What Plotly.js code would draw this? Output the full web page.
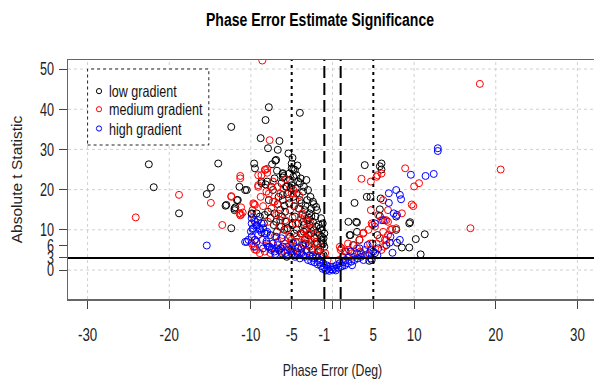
<!DOCTYPE html>
<html>
<head>
<meta charset="utf-8">
<script src="https://cdn.plot.ly/plotly-3.0.1.min.js"></script>
<style>
html,body{margin:0;padding:0;overflow:hidden;background:#fff;}
#chart{width:600px;height:382px;}
</style>
</head>
<body>
<div id="chart"></div>
<script>
// ---- data ----
const seriesNames = ["low gradient", "medium gradient", "high gradient"];
const seriesColors = ["#000000", "#ff0000", "#0000ff"];

const lowX = [-22.5,-21.9,-18.8,-15.4,-14.9,-14.0,-12.4,-13.1,-12.0,-11.9,-11.7,-12.4,-11.4,-10.5,-9.9,-9.6,-9.5,-8.8,-8.2,-7.8,-7.9,-6.7,-6.5,-6.9,-6.1,-6.1,-4.8,-5.6,-6.1,-7.8,-6.7,-8.7,-8.2,-4.0,-13.0,-10.7,-11.6,-12.0,-7.0,-5.0,
  -5.0,-5.1,-6.1,-6.0,-4.8,-4.4,-4.0,-3.8,-3.4,-3.3,-2.8,-2.6,-2.4,-2.0,-1.8,-1.55,-1.35,-1.15,-4.6,-4.2,-3.6,-4.4,-3.2,-3.0,-2.6,-2.2,-3.4,-5.8,-6.2,-6.9,-7.1,-7.9,-8.3,-9.3,-9.9,-6.1,-6.6,-7.3,-7.5,-8.7,-6.25,-5.7,-5.2,-7.1,-8.0,-4.6,-4.4,-4.8,-4.0,-5.0,-3.6,-3.1,-2.6,-2.1,-6.25,-5.6,-1.5,-1.0,
  -3.8,-2.9,-2.5,-1.9,-1.7,-4.5,-5.2,-5.5,-4.9,-3.9,-2.8,-2.3,-1.5,-1.2,-1.0,-1.1,-4.3,-5.0,-6.6,-6.8,-7.6,-6.3,-3.7,-4.1,-3.0,-5.3,-5.7,-4.5,-3.9,-3.5,-2.7,-2.3,-1.9,-1.4,-4.9,-5.4,
  -3.3,-2.0,-1.3,-4.7,-3.5,-2.4,-5.9,-6.4,-7.2,-8.4,
  -5.5,-4.2,-3.0,-2.4,-1.7,-1.3,-3.5,-4.7,-5.9,-6.4,-7.6,-8.9,-5.3,-4.3,-3.2,-2.0,-6.8,-7.4,-2.9,-1.1,
  6.0,6.0,5.8,3.95,4.2,4.65,2.7,5.9,5.8,7.8,9.4,9.5,10.2,11.3,10.8,9.4,8.5,7.8,7.9,1.95,3.0,3.0,2.2,5.8,4.5,5.2,4.9,4.7,1.6,2.6,3.5,5.5,6.6,3.3,2.9,2.1,4.8];
const lowY = [26.3,20.6,14.1,18.9,20.5,26.5,35.6,16.0,15.3,15.6,17.4,10.4,20.7,19.9,13.9,26.5,25.3,32.8,37.3,40.5,30.3,29.9,32.1,27.4,23.9,23.0,25.1,20.7,18.7,17.4,16.4,21.6,21.3,39.1,16.2,19.9,17.4,14.9,27.2,25.3,
  21.1,20.4,24.1,23.4,18.2,19.1,17.4,16.6,14.9,16.0,14.1,13.4,12.0,10.8,9.5,8.7,7.5,6.6,13.3,11.6,12.0,10.0,10.0,8.7,9.1,7.9,7.5,14.5,13.3,12.0,14.1,14.5,13.7,14.1,14.1,17.4,18.2,19.9,20.7,22.0,21.6,20.7,22.4,22.8,22.0,24.9,23.6,23.2,21.6,26.5,19.5,17.4,15.3,13.3,4.2,3.3,5.0,5.8,
  5.4,6.2,5.0,6.6,4.6,7.0,8.3,10.4,11.2,9.1,11.2,9.9,10.4,11.6,9.1,3.7,4.2,5.4,5.0,9.5,8.7,10.8,13.7,15.3,12.4,16.6,12.0,20.3,22.8,20.7,18.2,16.4,14.9,12.9,27.9,29.0,
  6.6,7.0,8.3,9.1,11.2,3.7,10.0,12.4,11.2,11.6,
  18.9,22.0,19.9,17.0,11.2,9.9,9.5,15.9,16.0,15.0,12.9,13.3,24.0,26.0,22.4,15.7,24.7,26.3,13.0,7.9,
  26.5,25.0,25.8,26.1,18.2,18.2,16.7,17.8,15.1,13.3,11.6,11.9,7.7,8.9,3.9,5.6,5.6,10.0,6.8,12.0,11.8,9.5,8.7,13.4,2.3,4.2,6.6,5.0,4.6,6.2,4.2,8.7,6.2,7.5,12.0,8.7,2.5];

const medX = [-24.1,-18.8,-14.9,-13.5,-12.4,-11.3,-11.3,-11.2,-11.2,-11.0,-9.6,-9.1,-8.8,-8.7,-8.2,-8.0,-7.7,-8.6,-7.5,-6.7,-7.3,-9.5,-9.5,-8.9,-9.6,-12.4,-11.4,-11.3,
  -9.7,-9.5,-9.1,-9.1,-8.3,-8.0,-8.1,-7.8,-7.5,-7.1,-6.7,-6.9,-6.5,-5.8,-5.6,-5.2,-5.0,-4.8,-4.6,-4.2,-6.1,-5.4,-5.0,-4.4,-3.8,-3.4,-4.6,-5.8,-6.7,-7.1,-9.3,-9.7,-2.8,-2.6,-2.2,-1.8,-1.5,-4.0,-0.9,0.9,1.0,-3.2,-2.0,-1.3,-0.6,-3.6,-4.9,-5.5,-6.3,-7.6,-3.0,-3.9,-4.5,-2.5,-2.0,-5.3,-6.0,-3.7,
  -8.3,-7.9,-6.9,-5.2,-4.2,-3.3,-2.9,-9.9,-8.6,
  -6.4,-5.7,-4.1,-3.4,-2.7,-6.6,-7.9,-8.5,-7.3,-9.8,-4.9,-3.1,
  18.05,20.6,16.9,8.9,3.55,4.7,5.4,5.5,6.0,10.0,10.6,9.7,9.9,4.7,6.2,6.8,8.5,5.6,6.0,6.4,6.8,4.8,5.2,7.8,6.2,6.8,4.4,3.75,5.8,5.4,6.4,4.6,3.3,2.5,1.9,1.1,1.5,2.0,2.4,3.0,3.4,4.0,4.5,1.3,0.8,3.8,4.9,6.6,7.1,7.3,6.6,6.0,6.3,2.6];
const medY = [13.1,18.7,16.7,11.2,18.4,23.4,22.8,15.6,13.8,14.3,16.4,20.7,18.2,23.6,25.0,25.2,32.3,52.1,20.7,20.7,17.0,7.5,5.1,4.2,12.4,18.2,14.1,13.6,
  16.6,16.2,21.1,23.6,24.9,24.2,19.5,19.0,15.3,17.0,16.4,13.7,10.8,12.4,10.0,14.9,19.1,19.9,17.4,15.3,8.7,7.9,7.5,8.3,9.1,10.0,5.8,6.6,7.0,8.3,5.0,5.8,5.8,7.0,6.6,5.0,5.8,4.2,4.2,5.8,5.0,4.6,3.7,3.3,2.5,6.6,4.6,5.0,4.6,4.2,12.0,12.9,11.6,10.4,8.7,17.8,20.3,14.1,
  4.6,6.2,5.4,6.2,7.0,7.9,9.1,6.6,7.5,
  19.0,22.6,18.6,13.3,11.7,14.0,12.0,15.9,22.0,14.9,13.0,8.0,
  46.3,25.0,10.4,25.3,22.7,22.0,23.2,23.6,24.0,20.8,21.6,16.3,15.9,14.9,17.4,14.9,14.1,13.7,12.4,12.4,12.0,11.6,10.8,10.4,9.5,8.7,10.0,9.1,7.9,6.6,7.5,6.6,7.5,6.2,6.6,5.4,4.6,5.0,4.2,5.4,4.6,5.0,3.7,3.3,2.5,9.3,11.2,12.4,10.0,10.2,7.5,5.0,5.8,3.3];

const highX = [-15.4,-10.5,-9.3,-9.9,-9.3,-9.8,-8.9,-8.7,-8.1,-8.0,-8.1,-7.7,-7.4,-6.9,-6.5,-6.1,-9.5,-9.9,-9.5,-9.1,-8.7,-9.3,-9.7,-8.9,-8.5,-8.3,-9.1,-9.9,-10.3,-10.7,-9.5,-8.1,-7.9,-8.5,-7.5,-7.1,-6.7,-6.25,-5.6,-5.2,-4.8,-4.2,-3.6,-3.2,-2.8,-2.4,-2.0,-1.55,-1.15,-0.75,-0.3,0.1,0.5,0.9,-3.8,-4.6,-5.0,-3.0,-2.2,-1.8,-1.4,-1.0,-0.6,-0.2,0.3,0.7,1.2,-1.2,-0.8,0.0,-0.4,0.4,-1.6,-2.6,-3.4,-4.0,-5.8,-7.0,-10.0,
  -5.4,-4.4,-3.6,-2.5,-6.3,-7.3,
  12.9,12.9,9.6,11.4,12.4,6.9,7.8,8.25,8.4,6.9,7.5,7.9,7.0,7.35,8.25,7.1,6.2,5.2,1.5,1.9,2.3,2.7,3.1,3.5,4.0,4.5,5.0,5.5,3.0,2.0,1.6,1.0,2.4,3.8,4.7,3.3,2.2,4.3,5.6,1.3];
const highY = [6.1,7.0,7.0,11.6,11.0,10.2,10.4,9.4,9.1,9.5,7.1,5.8,5.4,8.3,5.0,5.8,5.8,12.9,12.0,12.4,11.6,11.2,10.4,10.0,10.4,9.1,8.7,8.3,7.5,7.0,7.5,6.6,5.8,5.4,5.0,4.6,6.2,7.9,5.8,5.0,6.6,5.4,6.2,5.0,3.7,2.9,3.3,2.5,1.7,1.2,0.8,0.8,1.2,1.7,4.2,3.3,4.0,2.5,1.9,1.4,1.0,0.6,0.3,0.2,0.3,0.6,1.0,0.3,-0.1,0.1,-0.2,-0.1,1.9,2.2,3.3,2.9,4.2,4.0,9.6,
  3.7,4.6,3.7,3.3,5.4,6.6,
  30.3,29.6,23.7,23.4,23.9,19.1,19.9,18.7,17.6,16.7,14.1,13.7,6.8,4.3,7.5,8.3,12.4,11.6,1.2,1.7,2.1,2.5,2.9,3.3,3.7,4.2,4.6,3.7,4.2,3.3,2.5,0.8,1.2,2.5,2.9,5.4,4.6,6.2,5.4,1.9];

// axes / reference values
const xTickVals = [-30,-20,-10,-5,-1,0,1,5,10,20,30];
const xTickText = ["-30","-20","-10","-5","-1","","","5","10","20","30"];
const yTickVals = [0,3,6,10,20,30,40,50];
const yTickText = ["0","3","6","10","20","30","40","50"];
const xGrid = [-30,-20,-10,0,10,20,30];
const yGrid = [0,10,20,30,40,50];
const dottedCut = [-5,5];
const dashedCut = [-1,1];
const tCut = 3;
const xRange = [-32.4,32.4];
const yRange = [-7.2,52.24];

const FONT = '"Liberation Sans",Arial,sans-serif';

const seriesX = [lowX, medX, highX];
const seriesY = [lowY, medY, highY];
const traces = seriesNames.map((n,i)=>({
  type:'scatter', mode:'markers', name:n, x:seriesX[i], y:seriesY[i],
  marker:{symbol:'circle-open', size:7, color:seriesColors[i], line:{width:1, color:seriesColors[i]}},
  showlegend:false, hoverinfo:'skip'
}));

const shapes = [];
xGrid.forEach(v=>shapes.push({type:'line', layer:'below', xref:'x', yref:'paper', x0:v, x1:v, y0:0, y1:1, line:{color:'#d0d0d0', width:1, dash:'dot'}}));
yGrid.forEach(v=>shapes.push({type:'line', layer:'below', xref:'paper', yref:'y', x0:0, x1:1, y0:v, y1:v, line:{color:'#d0d0d0', width:1, dash:'dot'}}));
dottedCut.forEach(v=>shapes.push({type:'line', xref:'x', yref:'paper', x0:v, x1:v, y0:0, y1:1, line:{color:'#000', width:2, dash:'3px,4px'}}));
dashedCut.forEach(v=>shapes.push({type:'line', xref:'x', yref:'paper', x0:v, x1:v, y0:0, y1:1, line:{color:'#000', width:2, dash:'12px,5px'}}));
shapes.push({type:'line', xref:'paper', yref:'y', x0:0, x1:1, y0:tCut, y1:tCut, line:{color:'#000', width:2}});

// legend box (top-left at x=-30, y=50)
const legX0 = -30, legX1 = -15.15, legY0 = 31.1, legY1 = 50;
shapes.push({type:'rect', xref:'x', yref:'y', x0:legX0, x1:legX1, y0:legY0, y1:legY1, fillcolor:'#fff', line:{color:'#222', width:1, dash:'dot'}});
const legRowY = [44.5, 40.0, 35.2];
const annotations = [];
seriesNames.forEach((n,i)=>{
  shapes.push({type:'circle', xref:'x', yref:'y', xsizemode:'pixel', ysizemode:'pixel', xanchor:-28.6, yanchor:legRowY[i], x0:-2.6, x1:2.6, y0:-2.6, y1:2.6, line:{color:seriesColors[i], width:1}});
  annotations.push({xref:'x', yref:'y', x:-27.5, y:legRowY[i], text:n, showarrow:false, xanchor:'left', align:'left', yanchor:'middle', borderpad:0, font:{family:FONT, size:16.5, color:'#111'}});
});

const layout = {
  width:600, height:382,
  margin:{l:68, r:3, t:60, b:83, pad:0},
  paper_bgcolor:'#fff', plot_bgcolor:'#fff',
  showlegend:false,
  title:{text:'Phase Error Estimate Significance', x:320/600, xanchor:'center', xref:'container', y:1-20/382, yref:'container', yanchor:'middle', font:{family:FONT, size:17.5, color:'#000', weight:'bold'}},
  xaxis:{range:xRange, tickmode:'array', tickvals:xTickVals, ticktext:xTickText, ticks:'outside', ticklen:8, tickwidth:1, tickcolor:'#444',
    showline:true, linecolor:'#666', linewidth:1.5, mirror:true, showgrid:false, zeroline:false,
    tickfont:{family:FONT, size:18, color:'#222'}, ticklabelstandoff:11,
    title:{text:'Phase Error (Deg)', font:{family:FONT, size:17, color:'#222'}, standoff:20}},
  yaxis:{range:yRange, tickmode:'array', tickvals:yTickVals, ticktext:yTickText, ticks:'outside', ticklen:8, tickwidth:1, tickcolor:'#444',
    showline:true, linecolor:'#666', linewidth:1.5, mirror:true, showgrid:false, zeroline:false, tickangle:0,
    tickfont:{family:FONT, size:18, color:'#222'}, ticklabelstandoff:1,
    title:{text:'Absolute t Statistic', font:{family:FONT, size:15.5, color:'#222'}, standoff:7}},
  shapes:shapes, annotations:annotations
};

// horizontal condensing of the text, to match the narrow lettering of the reference
function squeeze(gd, sel, f){
  gd.querySelectorAll(sel).forEach(t=>{
    const L = t.getComputedTextLength();
    if (L > 0) { t.setAttribute('textLength', (L*f).toFixed(2)); t.setAttribute('lengthAdjust','spacingAndGlyphs'); }
  });
}
Plotly.newPlot('chart', traces, layout, {staticPlot:true, displayModeBar:false}).then(gd=>{
  squeeze(gd, '.gtitle', 0.80);
  squeeze(gd, '.xtick text', 0.74);
  squeeze(gd, '.ytick text', 0.70);
  squeeze(gd, '.g-xtitle text', 0.72);
  squeeze(gd, '.annotation-text', 0.76);
});
</script>
</body>
</html>
